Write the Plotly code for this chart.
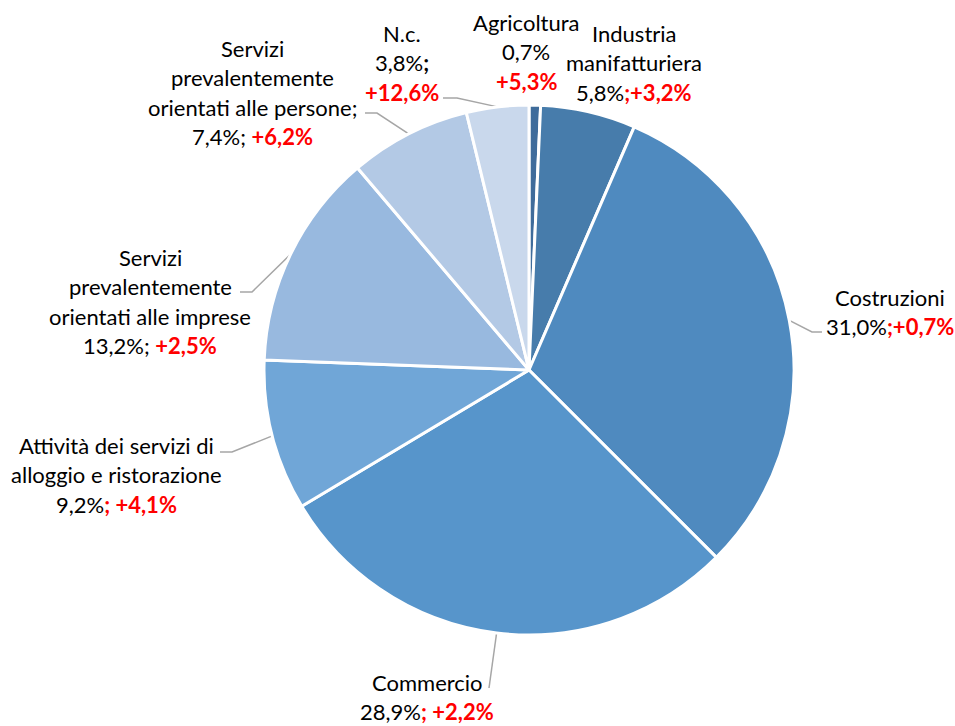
import math
import plotly.graph_objects as go

# ---------------- data ----------------
categories = [
    "Agricoltura",
    "Industria manifatturiera",
    "Costruzioni",
    "Commercio",
    "Attività dei servizi di alloggio e ristorazione",
    "Servizi prevalentemente orientati alle imprese",
    "Servizi prevalentemente orientati alle persone",
    "N.c.",
]
shares = [0.7, 5.8, 31.0, 28.9, 9.2, 13.2, 7.4, 3.8]      # % share
changes = [5.3, 3.2, 0.7, 2.2, 4.1, 2.5, 6.2, 12.6]        # % change

colors = ["#3F6C9B", "#477CAB", "#4F8ABF", "#5795CB",
          "#70A6D7", "#98B9DF", "#B3C9E5", "#C9D8EC"]

# ---------------- label layout (pixels) ----------------
RED = "<span style='color:#FF0000'><b>{}</b></span>"
label_lines = [
    ["Agricoltura", "{s}", RED.format("{c}")],
    ["Industria", "manifatturiera", "{s}" + RED.format(";{c}")],
    ["Costruzioni", "{s}" + RED.format(";{c}")],
    ["Commercio", "{s}" + RED.format("; {c}")],
    ["Attività dei servizi di", "alloggio e ristorazione", "{s}" + RED.format("; {c}")],
    ["Servizi", "prevalentemente", "orientati alle imprese", "{s}; " + RED.format("{c}")],
    ["Servizi", "prevalentemente", "orientati alle persone;", "{s}; " + RED.format("{c}")],
    ["N.c.", "{s}<b>;</b>", RED.format("{c}")],
]
label_pos = [(526, 22), (634, 33), (890, 297), (427, 682),
             (116, 445), (150, 257), (252, 48), (402, 33)]
LINE_H = 29.5
# leader lines: (label end point, elbow point) or None
leaders = [None, None, ((822, 332), (812, 332)), ((489, 688), (489, 688)),
           ((220, 452), (232, 452)), ((240, 292), (252, 292)),
           ((365, 113), (377, 113)), ((443, 98), (457, 98))]

W, H = 955, 726
CX, CY, R = 529, 370, 265

fig = go.Figure()
fig.add_trace(go.Pie(
    labels=categories, values=shares, sort=False, direction="clockwise",
    rotation=0, marker=dict(colors=colors, line=dict(color="white", width=3)),
    textinfo="none", hoverinfo="label+percent", showlegend=False,
    domain=dict(x=[(CX - R) / W, (CX + R) / W],
                y=[1 - (CY + R) / H, 1 - (CY - R) / H]),
))

def fmt(v, plus=False):
    s = f"{v:.1f}".replace(".", ",") + "%"
    return ("+" + s) if plus else s

total = sum(shares)
cum = 0.0
annotations = []
for i, v in enumerate(shares):
    mid = (cum + v / 2) / total * 2 * math.pi
    cum += v
    px = CX + R * math.sin(mid)
    py = CY - R * math.cos(mid)
    if leaders[i] is not None:
        (x0, y0), (x1, y1) = leaders[i]
        fig.add_trace(go.Scatter(x=[x0, x1, px], y=[y0, y1, py], mode="lines",
                                 line=dict(color="#A6A6A6", width=1.5),
                                 hoverinfo="skip", showlegend=False))
    cx, cy = label_pos[i]
    for j, ln in enumerate(label_lines[i]):
        annotations.append(dict(
            x=cx, y=cy + j * LINE_H, xref="x", yref="y",
            text=ln.format(s=fmt(v), c=fmt(changes[i], plus=True)),
            showarrow=False, xanchor="center", yanchor="middle",
            font=dict(family="Lato", size=22, color="black")))

fig.update_layout(
    width=W, height=H, margin=dict(l=0, r=0, t=0, b=0),
    paper_bgcolor="white", plot_bgcolor="rgba(0,0,0,0)",
    xaxis=dict(range=[0, W], visible=False, fixedrange=True, domain=[0, 1]),
    yaxis=dict(range=[H, 0], visible=False, fixedrange=True, domain=[0, 1]),
    annotations=annotations, showlegend=False,
)
fig.write_html("out.html", config={"displayModeBar": False},
               post_script="document.body.style.margin='0';"
                           "document.body.style.overflow='hidden';")
